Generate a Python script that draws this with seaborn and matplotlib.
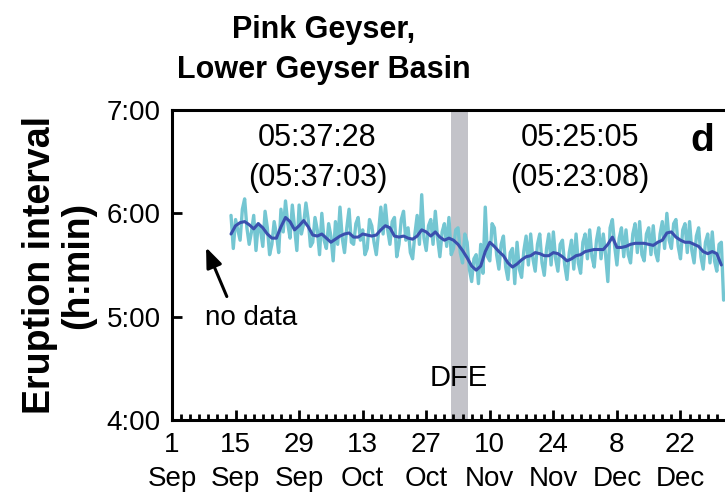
import numpy as np
import pandas as pd
import matplotlib
matplotlib.use("Agg")
import matplotlib.pyplot as plt
from matplotlib.ticker import MultipleLocator
import seaborn as sns

# Eruption interval record, Pink Geyser (hours). Day numbers count from 1 September.
start_day = 13
# Smoothed interval, one value per day
smooth_hours = [
    5.80, 5.88, 5.91, 5.92, 5.89, 5.85, 5.90, 5.86, 5.80, 5.76,
    5.76, 5.87, 5.96, 5.92, 5.84, 5.88, 5.93, 5.87, 5.79, 5.78,
    5.80, 5.76, 5.72, 5.75, 5.78, 5.80, 5.81, 5.77, 5.77, 5.80,
    5.79, 5.78, 5.79, 5.84, 5.88, 5.86, 5.78, 5.77, 5.78, 5.76,
    5.75, 5.78, 5.84, 5.82, 5.78, 5.82, 5.77, 5.74, 5.76, 5.74,
    5.70, 5.64, 5.57, 5.49, 5.45, 5.49, 5.63, 5.72, 5.68, 5.63,
    5.59, 5.52, 5.48, 5.51, 5.55, 5.58, 5.59, 5.62, 5.61, 5.59,
    5.59, 5.62, 5.61, 5.58, 5.54, 5.56, 5.59, 5.60, 5.63, 5.64,
    5.65, 5.65, 5.65, 5.70, 5.77, 5.67, 5.67, 5.68, 5.70, 5.71,
    5.71, 5.71, 5.70, 5.69, 5.72, 5.74, 5.81, 5.82, 5.77, 5.74,
    5.72, 5.72, 5.70, 5.68, 5.63, 5.61, 5.63, 5.61, 5.50,
]
# Individual intervals, two readings per day
raw_hours = [
    5.98, 5.66, 5.94, 5.84, 5.74, 6.04, 6.14, 5.86, 5.70, 5.82,
    5.98, 5.64, 5.90, 5.84, 5.68, 6.02, 5.86, 5.60, 5.70, 5.92,
    5.80, 5.62, 6.04, 5.82, 6.12, 5.90, 5.76, 6.08, 5.86, 5.64,
    6.08, 5.80, 5.90, 6.10, 5.94, 5.68, 5.72, 5.96, 5.84, 5.60,
    6.00, 5.74, 5.66, 5.90, 5.78, 5.54, 5.92, 5.70, 6.06, 5.76,
    5.62, 5.86, 6.04, 5.72, 5.70, 5.90, 5.96, 5.74, 5.84, 5.60,
    5.66, 5.94, 5.88, 5.72, 5.60, 5.82, 6.06, 5.80, 6.08, 5.84,
    5.70, 5.92, 5.96, 5.58, 5.70, 5.94, 6.02, 5.74, 5.86, 5.62,
    5.56, 5.80, 5.98, 5.70, 6.18, 5.76, 5.64, 5.88, 5.94, 5.70,
    6.02, 5.76, 5.58, 5.82, 5.90, 5.68, 5.96, 5.60, 5.66, 5.84,
    5.86, 5.62, 5.52, 5.80, 5.72, 5.46, 5.34, 5.56, 5.60, 5.32,
    5.70, 5.42, 6.06, 5.58, 5.54, 5.90, 5.86, 5.60, 5.46, 5.70,
    5.78, 5.48, 5.36, 5.62, 5.66, 5.32, 5.72, 5.46, 5.38, 5.64,
    5.78, 5.50, 5.80, 5.56, 5.44, 5.70, 5.80, 5.52, 5.40, 5.66,
    5.80, 5.50, 5.82, 5.56, 5.44, 5.70, 5.74, 5.50, 5.36, 5.62,
    5.74, 5.46, 5.80, 5.52, 5.42, 5.72, 5.80, 5.56, 5.84, 5.58,
    5.48, 5.74, 5.86, 5.56, 5.80, 5.60, 5.34, 5.86, 5.94, 5.68,
    5.50, 5.76, 5.86, 5.58, 5.84, 5.60, 5.52, 5.80, 5.90, 5.62,
    5.92, 5.60, 5.54, 5.80, 5.86, 5.60, 5.88, 5.62, 5.54, 5.80,
    5.92, 5.66, 6.00, 5.74, 5.66, 5.90, 5.94, 5.68, 5.56, 5.84,
    5.90, 5.62, 5.92, 5.64, 5.52, 5.78, 5.86, 5.58, 5.46, 5.72,
    5.80, 5.52, 5.82, 5.54, 5.44, 5.70, 5.72, 5.16,
]
dfe_start_day = 61.5
dfe_end_day = 65.2
day_ticks = [0, 14, 28, 42, 56, 70, 84, 98, 112]
day_labels = ["1\nSep", "15\nSep", "29\nSep", "13\nOct", "27\nOct",
              "10\nNov", "24\nNov", "8\nDec", "22\nDec"]
hour_ticks = [4, 5, 6, 7]
hour_labels = ["4:00", "5:00", "6:00", "7:00"]
mean_before = "05:37:28\n(05:37:03)"
mean_after = "05:25:05\n(05:23:08)"

raw_df = pd.DataFrame({
    "day": start_day + 0.5 * np.arange(len(raw_hours)),
    "hours": raw_hours,
})
smooth_df = pd.DataFrame({
    "day": start_day + np.arange(len(smooth_hours)),
    "hours": smooth_hours,
})

sns.set_theme(style="white")
plt.rcParams["font.family"] = ["Liberation Sans", "DejaVu Sans"]
plt.rcParams["text.color"] = "black"
plt.rcParams["axes.labelcolor"] = "black"

fig = plt.figure(figsize=(7.25, 4.97), dpi=100)
ax = fig.add_axes([172 / 725, 1 - 420 / 497, (731 - 172) / 725, 310 / 497])

ax.axvspan(dfe_start_day, dfe_end_day, color="#c3c3c9", lw=0, zorder=0)
sns.lineplot(data=raw_df, x="day", y="hours", ax=ax, color="#74c6d2", lw=2.4, zorder=2)
sns.lineplot(data=smooth_df, x="day", y="hours", ax=ax, color="#3a4fae", lw=2.2, zorder=3)

ax.set_xlim(0, (731 - 172) / 4.54)
ax.set_ylim(4, 7)
ax.set_yticks(hour_ticks)
ax.set_yticklabels(hour_labels)
ax.set_xticks(day_ticks)
ax.set_xticklabels(day_labels, linespacing=1.4)
ax.xaxis.set_minor_locator(MultipleLocator(2))

ax.set_xlabel("")
ax.set_ylabel("Eruption interval\n(h:min)", fontsize=27, fontweight="bold",
              labelpad=8, linespacing=1.05)
ax.tick_params(axis="both", which="major", direction="in", length=7, width=2,
               colors="black")
ax.tick_params(axis="x", which="major", labelsize=20, pad=9, bottom=True)
ax.tick_params(axis="y", which="major", labelsize=20, pad=8, left=True)
ax.tick_params(axis="x", which="minor", direction="in", length=4, width=2,
               bottom=True, color="black")
for side in ["left", "bottom", "top", "right"]:
    ax.spines[side].set_visible(True)
    ax.spines[side].set_linewidth(2.2)
    ax.spines[side].set_color("black")

fig.text(324 / 725, 1 - 50 / 497, "Pink Geyser,\nLower Geyser Basin", ha="center",
         va="center", fontsize=22, fontweight="bold", linespacing=1.4)

ax.text(0.26, 0.845, mean_before, transform=ax.transAxes, ha="center", va="center",
        fontsize=22, linespacing=1.4)
ax.text(0.73, 0.845, mean_after, transform=ax.transAxes, ha="center", va="center",
        fontsize=22, linespacing=1.4)
ax.text(0.948, 0.90, "d", transform=ax.transAxes, ha="center", va="center",
        fontsize=28, fontweight="bold")
ax.text(0.513, 0.135, "DFE", transform=ax.transAxes, ha="center", va="center", fontsize=21)
ax.text(0.059, 0.33, "no data", transform=ax.transAxes, ha="left", va="center", fontsize=20)
ax.annotate("", xy=(0.059, 0.565), xycoords="axes fraction",
            xytext=(0.10, 0.39), textcoords="axes fraction",
            arrowprops=dict(arrowstyle="-|>,head_length=1.0,head_width=0.4",
                            color="black", lw=2.2))

fig.savefig("out.png", dpi=100)
